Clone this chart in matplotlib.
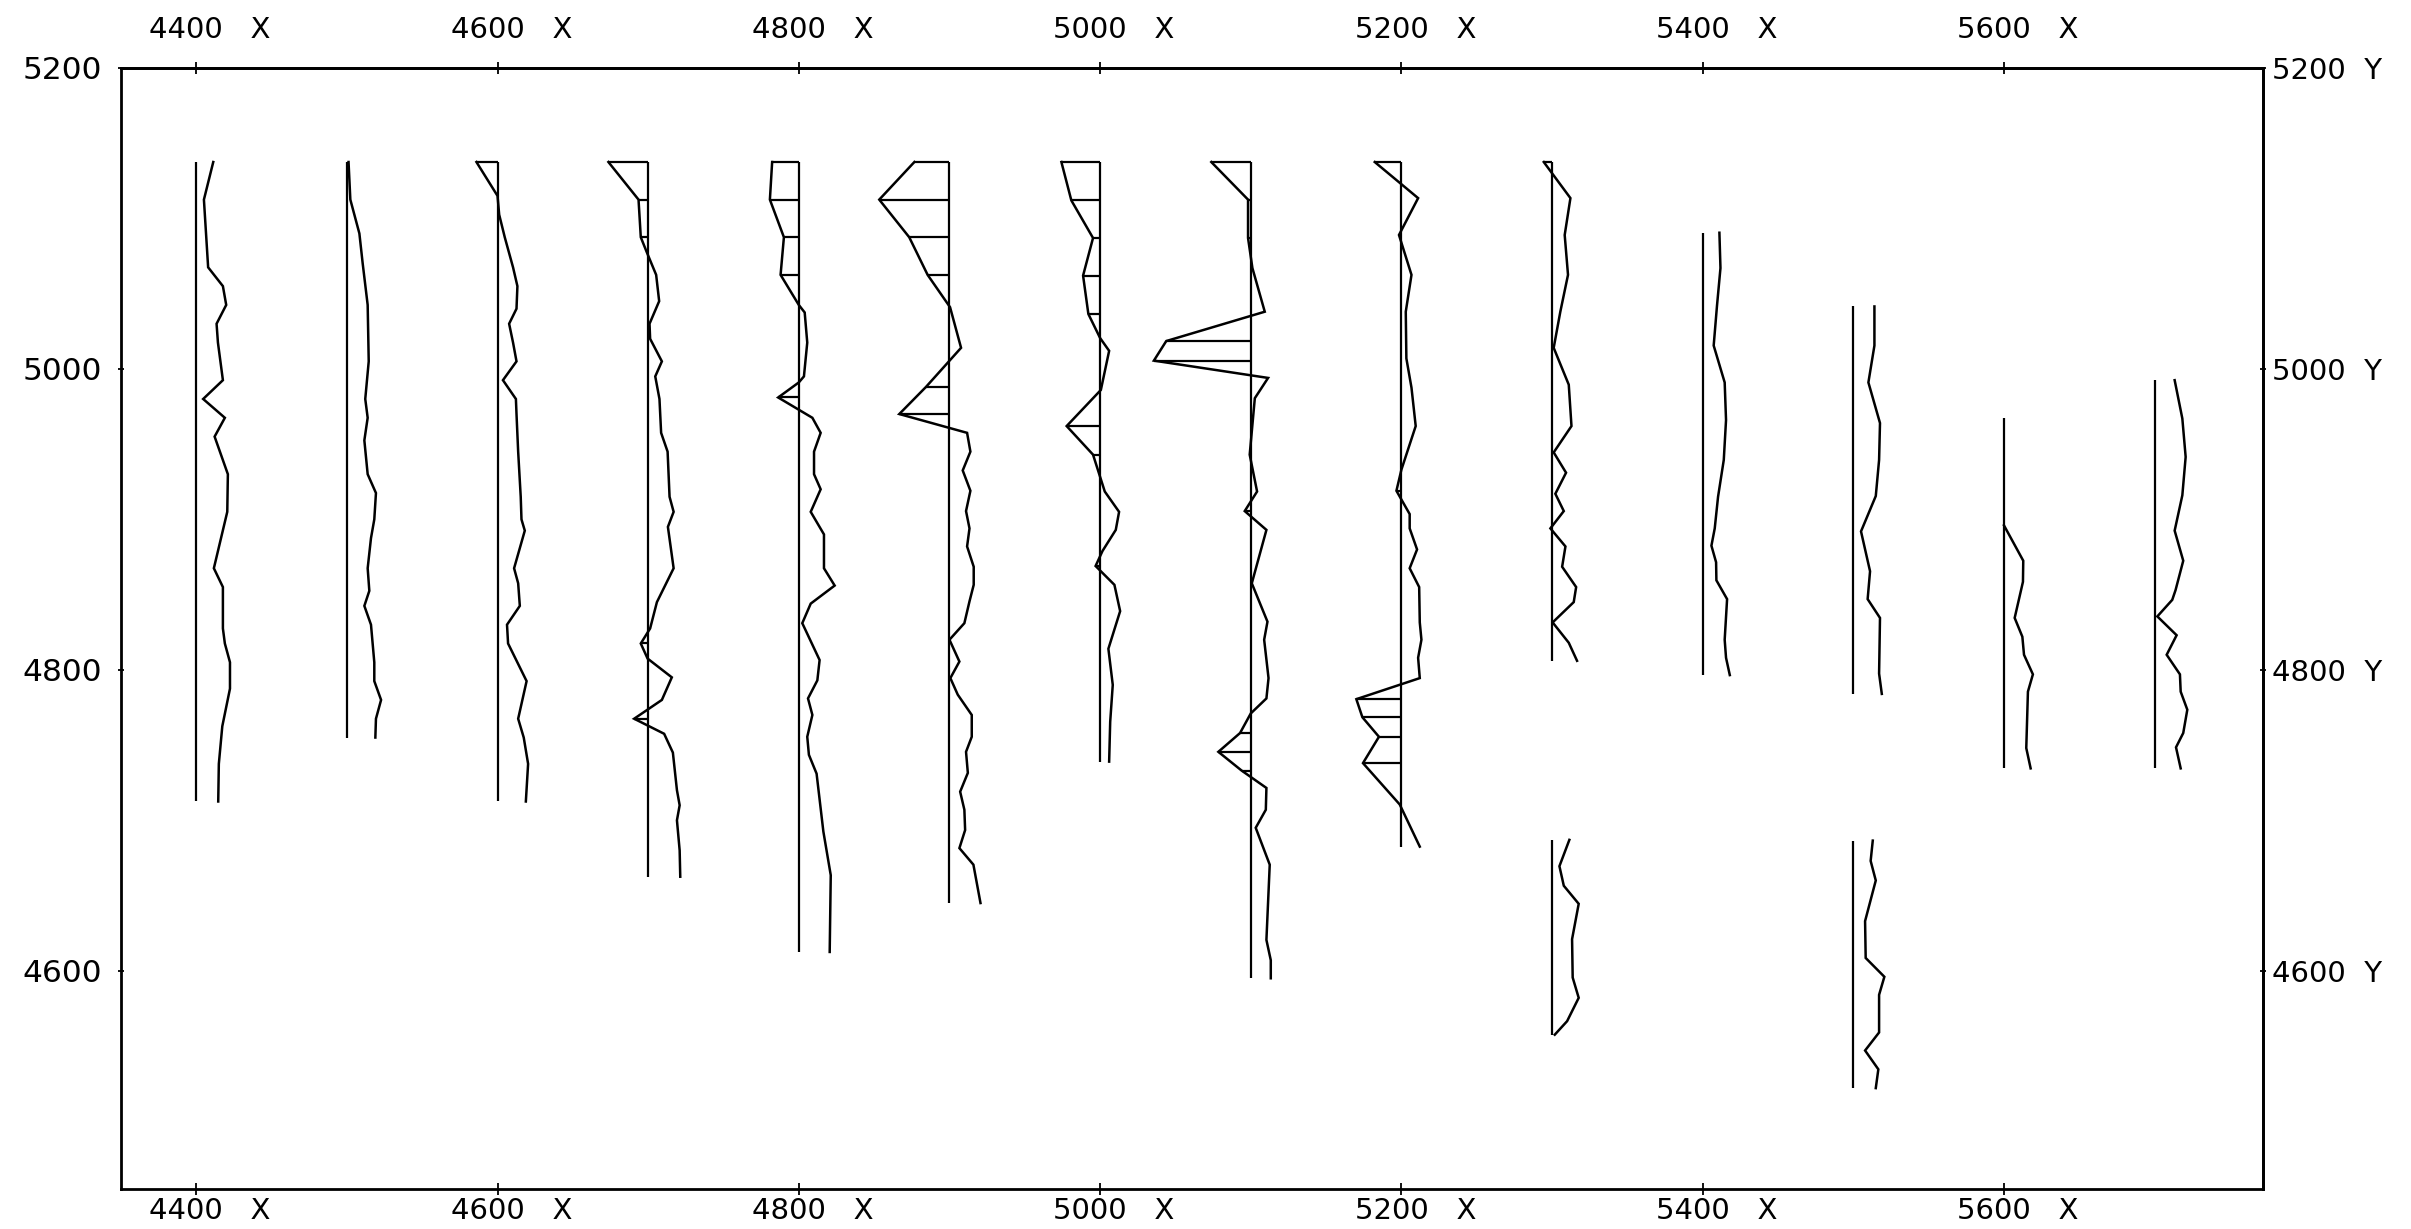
import matplotlib
matplotlib.use("Agg")
import matplotlib.pyplot as plt
import matplotlib.transforms as mtransforms

plt.rcParams['font.family'] = ['DejaVu Sans']

# ---------------- data ----------------
x_ticks = [4400, 4600, 4800, 5000, 5200, 5400, 5600]
x_tick_labels = ["4400   X", "4600   X", "4800   X", "5000   X", "5200   X", "5400   X", "5600   X"]
y_ticks = [4600, 4800, 5000, 5200]
y_left_labels = ["4600", "4800", "5000", "5200"]
y_right_labels = ["4600  Y", "4800  Y", "5000  Y", "5200  Y"]

# profile 4400
base_4400 = (5137.5, 4712.5)
y_4400 = [5137.5, 5112.5, 5067.5, 5055, 5042.5, 5030, 5017.5, 4992.5, 4980, 4967.5, 4955,
          4930, 4905, 4867.5, 4855, 4827.5, 4817.5, 4805, 4787.5, 4762.5, 4737.5, 4712.5]
v_4400 = [11.3, 5.1, 7.9, 17.7, 19.9, 13.5, 14.4, 17.7, 4.6, 19.0, 12.2,
          21.0, 20.6, 11.7, 17.7, 17.7, 19.0, 22.4, 22.4, 17.3, 15.0, 14.6]

# profile 4500
base_4500 = (5137.5, 4755)
y_4500 = [5137.5, 5112.5, 5090, 5070, 5042.5, 5005, 4980, 4967.5, 4952.5, 4930, 4917.5,
          4900, 4887.5, 4867.5, 4852.5, 4842.5, 4830, 4805, 4792.5, 4780, 4767.5, 4755]
v_4500 = [1.1, 2.3, 8.3, 10.5, 13.8, 14.5, 12.2, 13.8, 11.6, 13.8, 19.3,
          18.2, 16.0, 13.8, 14.9, 11.6, 16.0, 18.2, 18.2, 22.7, 19.3, 18.9]

# profile 4600
base_4600 = (5137.5, 4712.5)
y_4600 = [5137.5, 5115, 5102.5, 5087.5, 5067.5, 5055, 5040, 5030, 5017.5, 5005, 4992.5,
          4980, 4970, 4945, 4915, 4900, 4892.5, 4867.5, 4857.5, 4842.5, 4830, 4817.5,
          4792.5, 4767.5, 4755, 4737.5, 4712.5]
v_4600 = [-14.0, 0.0, 1.1, 4.8, 10.3, 13.2, 12.6, 7.7, 10.3, 12.6, 3.6,
          12.2, 12.6, 13.7, 15.4, 15.9, 18.1, 11.0, 13.7, 14.8, 6.3, 7.0,
          19.3, 13.7, 17.4, 20.3, 18.8]

# profile 4700
base_4700 = (5137.5, 4662.5)
y_4700 = [5137.5, 5112.5, 5087.5, 5077.5, 5062.5, 5045, 5030, 5020, 5005, 4995, 4980,
          4957.5, 4945, 4915, 4905, 4895, 4867.5, 4845, 4827.5, 4817.5, 4807.5, 4795,
          4780, 4767.5, 4757.5, 4745, 4720, 4710, 4700, 4680, 4662.5]
v_4700 = [-26.4, -6.4, -4.9, -0.9, 5.3, 7.3, 0.9, 1.3, 9.1, 4.7, 7.5,
          8.6, 12.9, 14.2, 16.9, 13.1, 16.9, 5.8, 1.3, -4.9, -0.4, 15.7,
          9.1, -9.3, 10.6, 16.4, 19.1, 20.9, 19.1, 20.9, 21.3]

# profile 4800
base_4800 = (5137.5, 4612.5)
y_4800 = [5137.5, 5112.5, 5087.5, 5062.5, 5042.5, 5037.5, 5017.5, 4995, 4991, 4981,
          4967.5, 4957.5, 4945, 4930, 4920, 4905, 4890, 4867.5, 4856, 4844, 4831,
          4806.5, 4793, 4781, 4770, 4755.5, 4743.5, 4731, 4692.5, 4663.5, 4612.5]
v_4800 = [-17.7, -19.2, -9.9, -12.1, 0.0, 3.9, 5.6, 3.4, 0.0, -13.7,
          9.0, 14.5, 10.1, 10.1, 14.5, 7.9, 16.7, 16.7, 23.8, 7.9, 2.3,
          13.8, 12.3, 6.1, 9.0, 5.6, 6.7, 11.8, 16.3, 21.2, 20.5]

# profile 4900
base_4900 = (5137.5, 4645)
y_4900 = [5137.5, 5112.5, 5087.5, 5062.5, 5041, 5014, 4988, 4970, 4957.5, 4945, 4932.5,
          4919, 4905.5, 4894, 4882, 4868.5, 4856.5, 4845.5, 4831, 4820, 4805.5, 4794.5,
          4783.5, 4770, 4755.5, 4745.5, 4731.5, 4719, 4707, 4693.5, 4681.5, 4670.5, 4645]
v_4900 = [-23.3, -46.6, -26.7, -14.5, 0.4, 7.7, -15.6, -33.3, 11.7, 13.9, 8.8,
          13.9, 11.0, 13.3, 11.7, 16.1, 16.1, 13.3, 9.9, 0.0, 6.6, 0.6,
          5.5, 14.8, 14.8, 11.0, 12.2, 7.1, 9.9, 10.4, 6.6, 15.9, 20.6]

# profile 5000
base_5000 = (5137.5, 4739)
y_5000 = [5137.5, 5112, 5087, 5062, 5036.5, 5020.5, 5012, 4986, 4962, 4943, 4918.5,
          4905, 4893, 4879, 4869, 4856.5, 4839, 4814, 4790, 4765.5, 4739]
v_5000 = [-25.7, -19.1, -4.7, -11.3, -7.8, 0.0, 6.0, 0.5, -22.2, -4.7, 3.1,
          12.6, 10.4, 1.6, -3.0, 9.5, 13.3, 5.5, 8.4, 6.7, 6.0]

# profile 5100
base_5100 = (5137.5, 4595)
y_5100 = [5137.5, 5112.5, 5087, 5067, 5038, 5018.5, 5005.5, 4994, 4980.5, 4943, 4918.5,
          4905.5, 4893, 4857.5, 4832, 4820, 4794.5, 4781, 4771, 4758, 4745.5, 4733,
          4721.5, 4707, 4695, 4670.5, 4620.5, 4607, 4595]
v_5100 = [-26.2, -1.8, -1.8, 1.1, 9.3, -56.1, -64.3, 11.5, 2.7, -0.7, 4.2,
          -4.0, 10.4, 0.7, 11.1, 8.9, 11.8, 10.4, 0.0, -7.1, -21.5, -6.0,
          10.4, 10.0, 3.3, 12.6, 10.4, 13.3, 13.3]

# profile 5200
base_5200 = (5137.5, 4682.5)
y_5200 = [5137.5, 5113.5, 5089, 5062.5, 5038, 5007, 4987.5, 4962, 4933, 4919, 4903.5,
          4894, 4880, 4867.5, 4855, 4831.5, 4820, 4808, 4794.5, 4780.5, 4768.5, 4755.5,
          4738, 4710.5, 4682.5]
v_5200 = [-17.7, 11.1, -1.6, 6.7, 2.9, 3.3, 6.7, 9.5, 0.0, -3.3, 5.5,
          5.5, 10.4, 5.5, 11.8, 12.2, 13.3, 11.1, 12.2, -29.9, -25.9, -14.9,
          -25.5, -1.1, 12.2]

# profile 5300 (two segments)
base_5300a = (5137.5, 4806)
y_5300a = [5137.5, 5113.5, 5089, 5062.5, 5038, 5014, 4989.5, 4962, 4944.5, 4931, 4917,
           4905.5, 4894, 4882, 4868.5, 4855, 4845, 4831.5, 4818, 4806]
v_5300a = [-5.5, 12.2, 8.4, 10.6, 5.5, 1.1, 11.1, 12.9, 1.1, 9.3, 2.2,
           7.8, -1.1, 8.9, 6.7, 16.0, 14.4, 0.4, 11.1, 16.6]
base_5300b = (4687, 4557.5)
y_5300b = [4687, 4669.5, 4656.5, 4644.5, 4621, 4595.5, 4582, 4566.5, 4557.5]
v_5300b = [11.5, 4.9, 7.8, 17.7, 13.3, 13.7, 17.7, 10.0, 1.8]

# profile 5400
base_5400 = (5090.5, 4796.5)
y_5400 = [5090.5, 5067, 5042, 5015.5, 4991, 4966, 4939.5, 4915, 4894, 4882.5, 4871.5,
          4859.5, 4847, 4820, 4808, 4796.5]
v_5400 = [11.1, 11.8, 9.5, 7.3, 14.6, 15.5, 14.0, 10.2, 8.0, 5.8, 8.9,
          9.1, 16.2, 14.6, 15.5, 18.0]

# profile 5500 (two segments)
base_5500a = (5041.5, 4784)
y_5500a = [5041.5, 5015.5, 4991, 4964, 4939.5, 4915.5, 4892, 4865.5, 4847, 4834.5, 4797.5, 4784]
v_5500a = [14.0, 14.0, 10.0, 17.7, 17.1, 14.9, 5.1, 11.1, 9.5, 17.7, 17.1, 18.9]
base_5500b = (4686.5, 4522)
y_5500b = [4686.5, 4673, 4660, 4633, 4608.5, 4596, 4584, 4559, 4547, 4534.5, 4522]
v_5500b = [12.9, 11.5, 14.9, 7.8, 8.2, 20.6, 17.1, 17.1, 7.8, 16.6, 14.9]

# profile 5600
base_5600 = (4967.5, 4734.5)
y_5600 = [4896, 4872.5, 4858.5, 4834.5, 4822, 4810, 4797, 4785.5, 4748, 4734.5]
v_5600 = [0.0, 12.8, 12.6, 7.1, 12.2, 13.3, 19.2, 15.9, 14.8, 17.7]

# profile 5700
base_5700 = (4992.5, 4734.5)
y_5700 = [4992.5, 4967, 4941.5, 4916, 4892.5, 4872.5, 4853, 4846.5, 4835.5, 4823, 4810,
          4797, 4785.5, 4773.5, 4758, 4748.5, 4734.5]
v_5700 = [13.3, 18.4, 20.6, 18.4, 13.3, 19.0, 13.9, 11.7, 1.8, 14.6, 8.0,
          16.8, 17.3, 21.7, 19.0, 14.2, 17.3]

segments = [
    (4400, base_4400, y_4400, v_4400),
    (4500, base_4500, y_4500, v_4500),
    (4600, base_4600, y_4600, v_4600),
    (4700, base_4700, y_4700, v_4700),
    (4800, base_4800, y_4800, v_4800),
    (4900, base_4900, y_4900, v_4900),
    (5000, base_5000, y_5000, v_5000),
    (5100, base_5100, y_5100, v_5100),
    (5200, base_5200, y_5200, v_5200),
    (5300, base_5300a, y_5300a, v_5300a),
    (5300, base_5300b, y_5300b, v_5300b),
    (5400, base_5400, y_5400, v_5400),
    (5500, base_5500a, y_5500a, v_5500a),
    (5500, base_5500b, y_5500b, v_5500b),
    (5600, base_5600, y_5600, v_5600),
    (5700, base_5700, y_5700, v_5700),
]

# ---------------- figure ----------------
W, H, DPI = 2411, 1229, 100
fig = plt.figure(figsize=(W / DPI, H / DPI), dpi=DPI, facecolor='white')
ax = fig.add_axes([0.05015, 0.0326, 0.8885, 0.9121])
ax.set_xlim(4350, 5772)
ax.set_ylim(4455, 5200)

for x0, base, ys, vs in segments:
    ax.plot([x0, x0], [base[0], base[1]], color='black', lw=1.6, solid_capstyle='butt')
    ax.plot([x0 + v for v in vs], ys, color='black', lw=1.8, solid_joinstyle='miter')
    for yy, vv in zip(ys, vs):
        if vv < 0:
            ax.plot([x0 + vv, x0], [yy, yy], color='black', lw=1.6, solid_capstyle='butt')

for s in ax.spines.values():
    s.set_linewidth(2.0)
    s.set_color('black')

FS = 21
ax.set_xticks(x_ticks, labels=x_tick_labels)
ax.tick_params(axis='x', direction='inout', length=8, width=1.3, pad=2, labelsize=FS)
ax.set_yticks(y_ticks, labels=y_left_labels)
ax.tick_params(axis='y', direction='inout', length=5, width=1.3, pad=11, labelsize=22.5)

secx = ax.secondary_xaxis('top')
secx.set_xticks(x_ticks, labels=x_tick_labels)
secx.tick_params(direction='inout', length=8, width=1.3, pad=13, labelsize=FS)
secx.spines['top'].set_linewidth(2.0)

secy = ax.secondary_yaxis('right')
secy.set_yticks(y_ticks, labels=y_right_labels)
secy.tick_params(direction='inout', length=5, width=1.3, pad=4, labelsize=FS)
secy.spines['right'].set_linewidth(2.0)

shift = mtransforms.ScaledTranslation(14 / DPI, 0, fig.dpi_scale_trans)
for lab in ax.get_xticklabels() + secx.get_xticklabels():
    lab.set_transform(lab.get_transform() + shift)

fig.savefig("out.png", dpi=DPI, facecolor='white')
